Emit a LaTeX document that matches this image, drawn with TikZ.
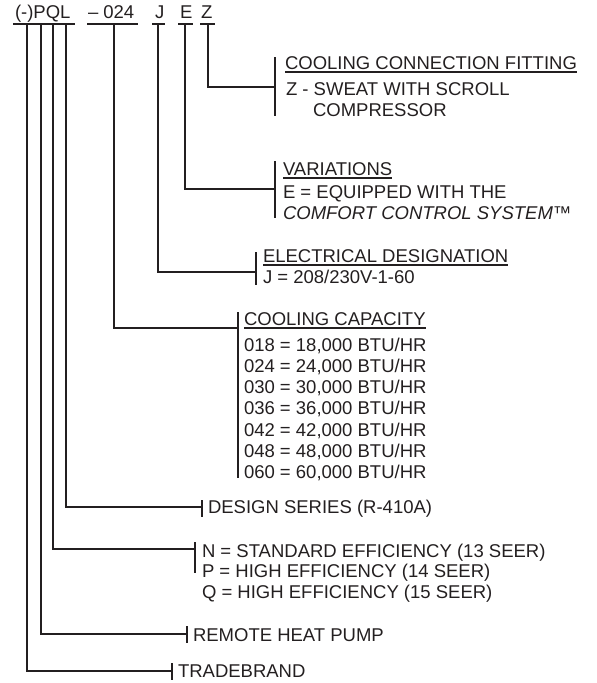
\documentclass[tikz,border=0pt]{standalone}
\usepackage{fontspec}
\setmainfont{Liberation Sans}
\definecolor{ink}{RGB}{35,31,32}
\begin{document}
\begin{tikzpicture}[x=1pt,y=-1pt,
  lbl/.style={anchor=base west,inner sep=0pt,outer sep=0pt,text=ink,font=\fontsize{18.5}{21}\selectfont},
  conn/.style={draw=ink,line width=2.5pt,line cap=rect},
  brk/.style={draw=ink,line width=2.5pt},
  uline/.style={draw=ink,line width=1.1pt}]
\useasboundingbox (0,0) rectangle (597,683);
% top code
\node[lbl] (tP) at (15,18) {(-)PQL};
\node[lbl] (tN) at (88,18) {– 024};
\node[lbl] (tJ) at (155,18) {J};
\node[lbl] (tE) at (180,18) {E};
\node[lbl] (tZ) at (201,18) {Z};
\draw[uline] (13,24) -- (75,24);
\draw[uline] (87,24) -- (138,24);
\draw[uline] (152,24) -- (165,24);
\draw[uline] (178,24) -- (193,24);
\draw[uline] (200,24) -- (215,24);
% start coordinates
\coordinate (s1) at (27,24);
\coordinate (s2) at (41,24);
\coordinate (s3) at (53,24);
\coordinate (s4) at (66,24);
\coordinate (s5) at (114,24);
\coordinate (s6) at (158,24);
\coordinate (s7) at (185,24);
\coordinate (s8) at (208,24);
% bracket joints
\coordinate (j8) at (275,87);
\coordinate (j7) at (275,189);
\coordinate (j6) at (256,272);
\coordinate (j5) at (238,328);
\coordinate (j4) at (202,507);
\coordinate (j3) at (195,549);
\coordinate (j2) at (187,634);
\coordinate (j1) at (172,671);
\draw[conn] (s8) |- (j8);
\draw[conn] (s7) |- (j7);
\draw[conn] (s6) |- (j6);
\draw[conn] (s5) |- (j5);
\draw[conn] (s4) |- (j4);
\draw[conn] (s3) |- (j3);
\draw[conn] (s2) |- (j2);
\draw[conn] (s1) |- (j1);
% brackets
\draw[brk] (275,57) -- (275,116);
\draw[brk] (275,161) -- (275,218);
\draw[brk] (256,252) -- (256,285);
\draw[brk] (238,312) -- (238,478);
\draw[brk] (202,500) -- (202,517);
\draw[brk] (195,542) -- (195,573);
\draw[brk] (187,626) -- (187,643);
\draw[brk] (172,663) -- (172,680);
% Z
\node[lbl] (hZ) at (285,69) {COOLING CONNECTION FITTING};
\draw[uline] ([yshift=-3pt]hZ.base west) -- ([yshift=-3pt]hZ.base east);
\node[lbl] (z1) at (286,95) {Z - SWEAT WITH SCROLL};
\node[lbl] (z2) at (313,116) {COMPRESSOR};
% E
\node[lbl] (hE) at (283,175) {VARIATIONS};
\draw[uline] ([yshift=-3pt]hE.base west) -- ([yshift=-3pt]hE.base east);
\node[lbl] (e1) at (283,198) {E = EQUIPPED WITH THE};
\node[lbl,font=\fontsize{18.5}{21}\selectfont\itshape] (e2) at (283,219) {COMFORT CONTROL SYSTEM™};
% J
\node[lbl] (hJ) at (263,262) {ELECTRICAL DESIGNATION};
\draw[uline] ([yshift=-3pt]hJ.base west) -- ([yshift=-3pt]hJ.base east);
\node[lbl] (jl) at (263,283) {J = 208/230V-1-60};
% capacity
\node[lbl] (hC) at (244,325) {COOLING CAPACITY};
\draw[uline] ([yshift=-3pt]hC.base west) -- ([yshift=-3pt]hC.base east);
\node[lbl] (c1) at (244,351) {018 = 18,000 BTU/HR};
\node[lbl] (c2) at (244,372) {024 = 24,000 BTU/HR};
\node[lbl] (c3) at (244,393) {030 = 30,000 BTU/HR};
\node[lbl] (c4) at (244,414) {036 = 36,000 BTU/HR};
\node[lbl] (c5) at (244,436) {042 = 42,000 BTU/HR};
\node[lbl] (c6) at (244,457) {048 = 48,000 BTU/HR};
\node[lbl] (c7) at (244,478) {060 = 60,000 BTU/HR};
% lower
\node[lbl] (ds) at (208,513) {DESIGN SERIES (R-410A)};
\node[lbl] (n1) at (202,557) {N = STANDARD EFFICIENCY (13 SEER)};
\node[lbl] (n2) at (202,577) {P = HIGH EFFICIENCY (14 SEER)};
\node[lbl] (n3) at (202,598) {Q = HIGH EFFICIENCY (15 SEER)};
\node[lbl] (rh) at (193,641) {REMOTE HEAT PUMP};
\node[lbl] (tb) at (178,677) {TRADEBRAND};
\end{tikzpicture}
\end{document}
